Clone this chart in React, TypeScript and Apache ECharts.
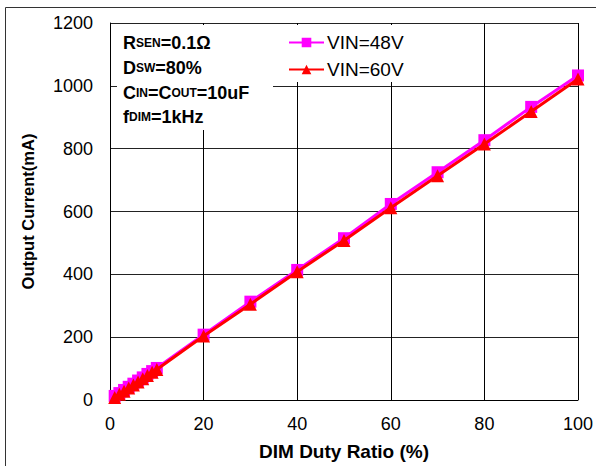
import React, { useEffect, useRef } from "react";
import * as echarts from "echarts";

const duty = [1, 2, 3, 4, 5, 6, 7, 8, 9, 10, 20, 30, 40, 50, 60, 70, 80, 90, 100];
const vin48 = [13, 22, 32, 42, 52, 62, 72, 83, 92, 102, 208, 313, 414, 515, 624, 725, 827, 933, 1033];
const vin60 = [8, 18, 28, 38, 48, 57, 68, 78, 88, 97, 204, 305, 408, 508, 612, 714, 815, 918, 1022];
const seriesNames = ["VIN=48V", "VIN=60V"];
const xTitle = "DIM Duty Ratio (%)";
const yTitle = "Output Current(mA)";

export default function App() {
  const ref = useRef<HTMLDivElement>(null);
  useEffect(() => {
    if (!ref.current) return;
    const chart = echarts.init(ref.current, null, { renderer: "svg" });
    const font = "'Liberation Sans', Arial, sans-serif";
    const big = { fontSize: 18, fontWeight: "bold", fontFamily: font, color: "#000" };
    const small = { fontSize: 12, fontWeight: "bold", fontFamily: font, color: "#000" };
    const rich = { b: big, s: small };
    const lines = [
      "{b|R}{s|SEN}{b|=0.1Ω}",
      "{b|D}{s|SW}{b|=80%}",
      "{b|C}{s|IN}{b|=C}{s|OUT}{b|=10uF}",
      "{b|f}{s|DIM}{b|=1kHz}",
    ];
    const lineY = [43, 68, 93, 117];
    chart.setOption({
      animation: false,
      backgroundColor: "#fff",
      grid: { left: 110, right: 14, top: 23, bottom: 63, containLabel: false },
      xAxis: {
        type: "value",
        min: 0,
        max: 100,
        interval: 20,
        name: xTitle,
        nameLocation: "middle",
        nameGap: 42,
        nameTextStyle: { fontSize: 19, fontWeight: "bold", fontFamily: font, color: "#000" },
        axisLine: { lineStyle: { color: "#000", width: 1 } },
        axisTick: { show: false },
        axisLabel: { fontSize: 18, fontFamily: font, color: "#000", margin: 15 },
        splitLine: { show: true, lineStyle: { color: "#000", width: 1 } },
      },
      yAxis: {
        type: "value",
        min: 0,
        max: 1200,
        interval: 200,
        name: yTitle,
        nameLocation: "middle",
        nameGap: 74,
        nameTextStyle: { fontSize: 16.5, fontWeight: "bold", fontFamily: font, color: "#000" },
        axisLine: { show: true, lineStyle: { color: "#000", width: 1 } },
        axisTick: { show: false },
        axisLabel: {
          fontSize: 18,
          fontFamily: font,
          color: "#000",
          margin: 17,
          formatter: (v: number) => String(v),
        },
        splitLine: { show: true, lineStyle: { color: "#222", width: 1 } },
      },
      legend: {
        orient: "vertical",
        left: 280,
        top: 25,
        padding: [8, 20, 3, 8],
        itemGap: 8,
        itemWidth: 35,
        itemHeight: 12,
        backgroundColor: "#fff",
        textStyle: { fontSize: 19, fontFamily: font, color: "#000", padding: [0, 0, 0, -2] },
        data: seriesNames,
      },
      graphic: [
        {
          type: "rect",
          shape: { x: 117, y: 25, width: 156, height: 105 },
          style: { fill: "#fff" },
          z: 10,
        },
        ...lines.map((t, i) => ({
          type: "text",
          x: 123,
          y: lineY[i],
          z: 11,
          style: { text: t, rich, verticalAlign: "middle", align: "left" },
        })),
        {
          type: "rect",
          shape: { x: 5.5, y: 7.5, width: 620, height: 500 },
          style: { fill: "none", stroke: "#333", lineWidth: 1 },
          z: 20,
          silent: true,
        },
      ],
      series: [
        {
          name: seriesNames[0],
          type: "line",
          data: duty.map((d, i) => [d, vin48[i]]),
          symbol: "rect",
          symbolSize: 12,
          itemStyle: { color: "#FF00FF" },
          lineStyle: { color: "#FF00FF", width: 3 },
          z: 3,
        },
        {
          name: seriesNames[1],
          type: "line",
          data: duty.map((d, i) => [d, vin60[i]]),
          symbol: "triangle",
          symbolSize: 13,
          itemStyle: { color: "#FF0000" },
          lineStyle: { color: "#FF0000", width: 3 },
          z: 4,
        },
      ],
    });
    return () => chart.dispose();
  }, []);
  return <div ref={ref} style={{ width: 596, height: 466, position: "absolute", left: 0, top: 0 }} />;
}
